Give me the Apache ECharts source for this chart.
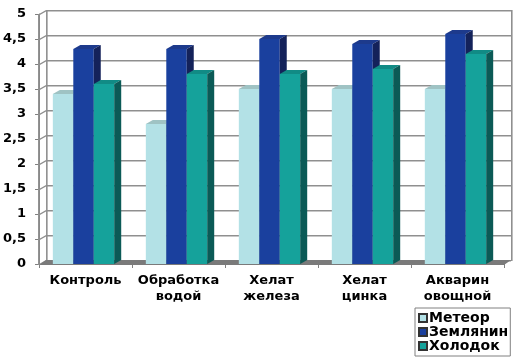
<!DOCTYPE html>
<html>
<head>
<meta charset="utf-8">
<script src="https://cdn.jsdelivr.net/npm/echarts@6/dist/echarts.min.js"></script>
<style>
  html, body { margin: 0; padding: 0; background: #fff; }
  #chart { width: 523px; height: 359px; }
</style>
</head>
<body>
<div id="chart"></div>
<script>
const categories = ['Контроль', 'Обработка\nводой', 'Хелат\nжелеза', 'Хелат\nцинка', 'Акварин\nовощной']
const meteor = [3.4, 2.8, 3.5, 3.5, 3.5]
const zemlyanin = [4.3, 4.3, 4.5, 4.4, 4.6]
const holodok = [3.6, 3.8, 3.8, 3.9, 4.2]
const yTicks = [0, 0.5, 1, 1.5, 2, 2.5, 3, 3.5, 4, 4.5, 5]

// depth of the fake 3d (px)
const DX = 7
const DY = 4
const T = 1.6 // thickness of the wall lines
const FONT = 'DejaVu Sans'
const GRID = '#8f8f8f'

const palette = [
  { front: '#b3e1e6', top: '#9fc3c4', side: '#7fa9ab' },
  { front: '#1a409e', top: '#1d3a8c', side: '#14225a' },
  { front: '#15a29b', top: '#118b85', side: '#0b5a56' }
]

// wall lines drawn as thin filled strips
function strip (pts) {
  const back = pts.slice().reverse().map(p => [p[0], p[1] + T])
  return { type: 'polygon', shape: { points: pts.concat(back) }, style: { fill: GRID } }
}
function vStrip (x, y0, y1) {
  return { type: 'polygon', shape: { points: [[x, y0], [x + T, y0], [x + T, y1], [x, y1]] }, style: { fill: GRID } }
}

// back wall line plus the slanted piece on the left wall, one item per tick
function wallItem (params, api) {
  const cs = params.coordSys
  const y = Math.round(api.coord([0, api.value(1)])[1])
  const x0 = cs.x
  const x1 = cs.x + cs.width
  return strip([[x0, y], [x0 + DX, y - DY], [x1 + DX, y - DY]])
}

function floorItem (params, api) {
  const cs = params.coordSys
  const y = Math.round(api.coord([0, 0])[1]) + 1
  const top = Math.round(cs.y)
  const x0 = cs.x
  const x1 = cs.x + cs.width
  return {
    type: 'group',
    children: [
      vStrip(x0 + DX, top - DY, y - DY),
      vStrip(x1 + DX, top - DY, y - DY),
      vStrip(x0 - 1, top, y),
      { type: 'polygon', shape: { points: [[x0, y], [x1, y], [x1 + DX, y - DY - 1], [x0 + DX, y - DY - 1]] }, style: { fill: '#7a7a7a' } }
    ]
  }
}

function barItem (idx) {
  return function (params, api) {
    const c = palette[idx]
    const pt = api.coord([api.value(0), api.value(1)])
    const base = api.coord([api.value(0), 0])[1]
    const bandW = api.size([1, 0])[0]
    const w = bandW * 0.22
    const x = pt[0] - w * 1.5 + idx * w - 2
    const top = pt[1]
    return {
      type: 'group',
      children: [
        { type: 'rect', shape: { x: x, y: top, width: w, height: base - top }, style: { fill: c.front } },
        { type: 'polygon', shape: { points: [[x, top], [x + DX, top - DY], [x + w + DX, top - DY], [x + w, top]] }, style: { fill: c.top } },
        { type: 'polygon', shape: { points: [[x + w, top], [x + w + DX, top - DY], [x + w + DX, base - DY], [x + w, base]] }, style: { fill: c.side } }
      ]
    }
  }
}

const names = ['Метеор', 'Землянин', 'Холодок']
const values = [meteor, zemlyanin, holodok]

const chart = echarts.init(document.getElementById('chart'))
chart.setOption({
  animation: false,
  grid: { left: 33, right: 19, top: 14, bottom: 95 },
  legend: {
    orient: 'vertical',
    left: 415,
    top: 308,
    data: names,
    icon: 'rect',
    itemWidth: 8,
    itemHeight: 8,
    itemGap: 0,
    padding: [3, 2, 3, 3],
    borderColor: '#808080',
    borderWidth: 1,
    borderRadius: 0,
    selectedMode: false,
    textStyle: { color: '#000', fontFamily: FONT, fontWeight: 'bold', fontSize: 14, lineHeight: 13, padding: [0, 0, 0, -3] }
  },
  xAxis: {
    type: 'category',
    data: categories,
    axisLine: { show: false },
    axisTick: { show: true, length: 4, lineStyle: { color: '#808080' } },
    axisLabel: {
      interval: 0,
      margin: 9,
      color: '#000',
      fontFamily: FONT,
      fontWeight: 'bold',
      fontSize: 13,
      lineHeight: 16
    }
  },
  yAxis: {
    type: 'value',
    min: 0,
    max: 5,
    interval: 0.5,
    axisLine: { show: true, lineStyle: { color: '#808080', width: 1 } },
    axisTick: { show: true, length: 4, lineStyle: { color: '#808080' } },
    splitLine: { show: false },
    axisLabel: {
      margin: 13,
      color: '#000',
      fontFamily: FONT,
      fontWeight: 'bold',
      fontSize: 13,
      formatter: v => String(v).replace('.', ',')
    }
  },
  series: [
    {
      type: 'custom',
      z: 2,
      renderItem: wallItem,
      data: yTicks.map(v => [0, v])
    },
    {
      type: 'custom',
      z: 2,
      renderItem: floorItem,
      data: [[0, 0]]
    }
  ].concat(names.map((n, i) => ({
    name: n,
    type: 'custom',
    z: 3 + i,
    itemStyle: { color: palette[i].front, borderColor: '#333', borderWidth: 1 },
    renderItem: barItem(i),
    data: values[i].map((v, k) => [k, v])
  })))
})
</script>
</body>
</html>
